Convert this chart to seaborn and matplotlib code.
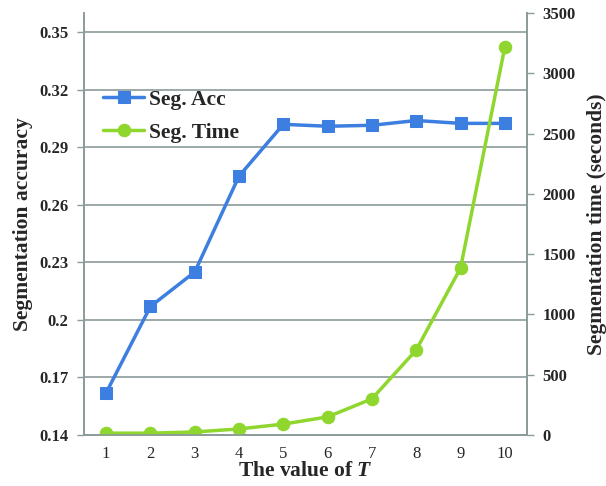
import matplotlib
matplotlib.use("Agg")
import matplotlib.pyplot as plt
import seaborn as sns
import pandas as pd

# values
t_values = [1, 2, 3, 4, 5, 6, 7, 8, 9, 10]
seg_acc = [0.162, 0.207, 0.225, 0.275, 0.302, 0.301, 0.3015, 0.304, 0.3025, 0.3025]
seg_time = [15, 15, 25, 50, 90, 150, 300, 705, 1385, 3218]
acc_ticks = [0.14, 0.17, 0.2, 0.23, 0.26, 0.29, 0.32, 0.35]
acc_tick_labels = ["0.14", "0.17", "0.2", "0.23", "0.26", "0.29", "0.32", "0.35"]
time_ticks = [0, 500, 1000, 1500, 2000, 2500, 3000, 3500]

sns.set_style("white")
plt.rcParams["font.family"] = ["Liberation Serif", "DejaVu Serif"]
plt.rcParams["mathtext.fontset"] = "custom"
plt.rcParams["mathtext.it"] = "Liberation Serif:italic:bold"
plt.rcParams["mathtext.bf"] = "Liberation Serif:italic:bold"

df = pd.DataFrame({"T": t_values, "acc": seg_acc, "time": seg_time})
df["pos"] = range(len(df))

blue = "#3d7fe0"
green = "#8fd62e"
gray = "#8c9a9a"

fig = plt.figure(figsize=(6.06, 4.86), dpi=100)
ax = fig.add_axes([0.1386, 0.105, 0.7310, 0.868])
ax2 = ax.twinx()

sns.lineplot(data=df, x="pos", y="acc", ax=ax, color=blue, linewidth=2.5,
             marker="s", markersize=9, markeredgecolor=blue, label="Seg. Acc", legend=False)
sns.lineplot(data=df, x="pos", y="time", ax=ax2, color=green, linewidth=2.5,
             marker="o", markersize=9, markeredgecolor=green, label="Seg. Time", legend=False)

ax.set_xlim(-0.5, len(t_values) - 0.5)
ax.set_ylim(0.14, 0.36)
ax2.set_ylim(0, 3500)

ax.set_yticks(acc_ticks)
ax.set_yticklabels(acc_tick_labels, fontweight="bold", fontsize=12)
ax2.set_yticks(time_ticks)
ax2.set_yticklabels([str(v) for v in time_ticks], fontweight="bold", fontsize=12)

ax.set_xticks(df["pos"])
ax.set_xticklabels([str(v) for v in t_values], fontsize=12)
ax.set_xticks([i - 0.5 for i in range(len(t_values) + 1)], minor=True)
ax.tick_params(axis="x", which="major", length=0, pad=8)
ax.tick_params(axis="x", which="minor", length=5, color=gray, width=1)
ax.tick_params(axis="y", length=5, color=gray, width=1, direction="out", pad=6)
ax2.tick_params(axis="y", length=5, color=gray, width=1, direction="out", pad=6)

ax.yaxis.grid(True, color=gray, linewidth=1.2)
ax.set_axisbelow(True)

for a in (ax, ax2):
    a.spines["top"].set_visible(False)
    for s in ("left", "right", "bottom"):
        a.spines[s].set_color(gray)
        a.spines[s].set_linewidth(1.2)

ax.set_xlabel("The value of $T$", fontsize=15.5, fontweight="bold", labelpad=-1)
ax.set_ylabel("Segmentation accuracy", fontsize=15.5, fontweight="bold", labelpad=5)
ax2.set_ylabel("Segmentation time (seconds)", fontsize=15.5, fontweight="bold", labelpad=8)
ax2.set_xlabel("")

h1, l1 = ax.get_legend_handles_labels()
h2, l2 = ax2.get_legend_handles_labels()
leg = ax2.legend(h1 + h2, l1 + l2, loc="upper left", bbox_to_anchor=(0.0, 0.865),
                 frameon=False, prop={"weight": "bold", "size": 15.5},
                 handlelength=1.9, handletextpad=0.2, labelspacing=0.6)

fig.savefig("out.png", dpi=100)
